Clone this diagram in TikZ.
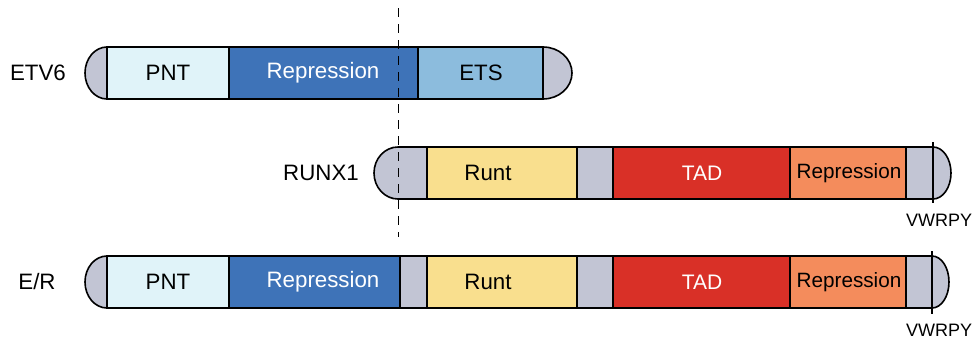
\documentclass[tikz,border=0pt]{standalone}
\usepackage{fontspec}
\setmainfont{Liberation Sans}
\definecolor{capgray}{HTML}{C2C5D4}
\definecolor{pntcol}{HTML}{E0F3F9}
\definecolor{repblue}{HTML}{3E73B8}
\definecolor{etscol}{HTML}{8CBCDD}
\definecolor{runtcol}{HTML}{F9DF8E}
\definecolor{tadcol}{HTML}{D93027}
\definecolor{reporange}{HTML}{F48C5C}
\tikzset{
  seg/.style={draw=black, line width=1.6pt, rectangle, minimum height=52pt,
              inner sep=0pt, outer sep=0pt, anchor=west},
  capshape/.style={draw=black, line width=1.6pt, fill=capgray},
  txt/.style={font=\fontsize{22.3}{26}\selectfont, inner sep=0pt},
  wtxt/.style={txt, text=white},
  small/.style={font=\fontsize{18}{21}\selectfont, inner sep=0pt},
  tick/.style={line width=1.3pt},
  cut/.style={line width=1.7pt, dash pattern=on 9pt off 7pt}
}
\begin{document}
\begin{tikzpicture}[x=1pt,y=-1pt]
\useasboundingbox (0,0) rectangle (977,340);

% ---------------- ETV6 ----------------
\draw[capshape] (107,47) arc[start angle=270,end angle=90,x radius=22,y radius=26] -- cycle;
\draw[capshape] (543,47) arc[start angle=270,end angle=450,x radius=29,y radius=26] -- cycle;
\node[seg, fill=pntcol,  minimum width=122pt] (e6pnt) at (107,73) {};
\node[seg, fill=repblue, minimum width=189pt] (e6rep) at (229,73) {};
\node[seg, fill=etscol,  minimum width=125pt] (e6ets) at (418,73) {};
\node[txt]  (le6pnt) at (168,73) {PNT};
\node[wtxt] (le6rep) at (323,73) {Repression};
\node[txt]  (le6ets) at (481,73) {ETS};
\node[txt]  (le6)    at (38,73)  {ETV6};

% ---------------- RUNX1 ----------------
\draw[capshape] (427,147) -- (398,147) arc[start angle=270,end angle=90,x radius=24,y radius=26] -- (427,199) -- cycle;
\draw[capshape] (906,147) -- (933,147) arc[start angle=270,end angle=450,x radius=18,y radius=26] -- (906,199) -- cycle;
\node[seg, fill=runtcol,   minimum width=150pt] (r1runt) at (427,173) {};
\node[seg, fill=capgray,   minimum width=36pt]  (r1gap)  at (577,173) {};
\node[seg, fill=tadcol,    minimum width=177pt] (r1tad)  at (613,173) {};
\node[seg, fill=reporange, minimum width=116pt] (r1rep)  at (790,173) {};
\node[txt]  (lr1runt) at (488,173) {Runt};
\node[wtxt, font=\fontsize{21}{25}\selectfont] (lr1tad) at (702,173) {TAD};
\node[txt, font=\fontsize{20.7}{24}\selectfont] (lr1rep) at (849,173) {Repression};
\node[txt]  (lr1)     at (321,173) {RUNX1};
\coordinate (r1tt) at (933,142);
\coordinate (r1tb) at (933,203);
\draw[tick] (r1tt) -- (r1tb);
\node[small] (lr1v) at (939,220) {VWRPY};

% ---------------- E/R ----------------
\draw[capshape] (107,256) arc[start angle=270,end angle=90,x radius=22,y radius=26] -- cycle;
\draw[capshape] (906,256) -- (932,256) arc[start angle=270,end angle=450,x radius=17,y radius=26] -- (906,308) -- cycle;
\node[seg, fill=pntcol,    minimum width=122pt] (erpnt)  at (107,282) {};
\node[seg, fill=repblue,   minimum width=171pt] (errep)  at (229,282) {};
\node[seg, fill=capgray,   minimum width=27pt]  (ergap1) at (400,282) {};
\node[seg, fill=runtcol,   minimum width=150pt] (errunt) at (427,282) {};
\node[seg, fill=capgray,   minimum width=36pt]  (ergap2) at (577,282) {};
\node[seg, fill=tadcol,    minimum width=177pt] (ertad)  at (613,282) {};
\node[seg, fill=reporange, minimum width=116pt] (errep2) at (790,282) {};
\node[txt]  (lerpnt)  at (168,282) {PNT};
\node[wtxt] (lerrep)  at (323,282) {Repression};
\node[txt]  (lerrunt) at (488,282) {Runt};
\node[wtxt, font=\fontsize{21}{25}\selectfont] (lertad) at (702,282) {TAD};
\node[txt, font=\fontsize{20.7}{24}\selectfont] (lerrep2) at (849,282) {Repression};
\node[txt]  (ler)     at (37,282) {E/R};
\coordinate (ertt) at (932,251);
\coordinate (ertb) at (932,314);
\draw[tick] (ertt) -- (ertb);
\node[small] (lerv) at (939,330) {VWRPY};

% ---------------- breakpoint ----------------
\coordinate (cuttop) at (398.5,8);
\coordinate (cutbot) at (398.5,237);
\draw[cut] (cuttop) -- (cutbot);
\end{tikzpicture}
\end{document}
